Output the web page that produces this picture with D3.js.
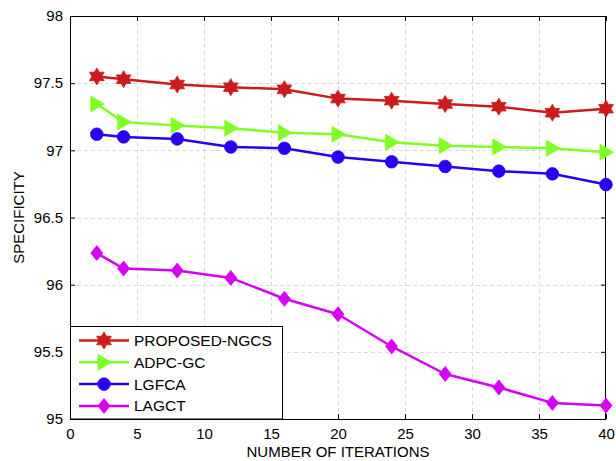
<!DOCTYPE html>
<html>
<head>
<meta charset="utf-8">
<script src="https://cdn.jsdelivr.net/npm/d3@7"></script>
<style>
  html, body { margin: 0; padding: 0; background: #fff; }
  svg { display: block; font-family: "Liberation Sans", Arial, sans-serif; }
</style>
</head>
<body>
<svg id="chart" width="616" height="461"></svg>
<script>
const iterations = [2, 4, 8, 12, 16, 20, 24, 28, 32, 36, 40];
const seriesNames = ["PROPOSED-NGCS", "ADPC-GC", "LGFCA", "LAGCT"];
const proposedNGCS = [97.55, 97.53, 97.49, 97.47, 97.455, 97.385, 97.37, 97.345, 97.325, 97.28, 97.31];
const adpcGC       = [97.345, 97.21, 97.185, 97.165, 97.13, 97.12, 97.06, 97.035, 97.025, 97.015, 96.985];
const lgfca        = [97.12, 97.10, 97.085, 97.025, 97.015, 96.95, 96.915, 96.88, 96.845, 96.825, 96.745];
const lagct        = [96.235, 96.12, 96.105, 96.05, 95.895, 95.78, 95.54, 95.335, 95.235, 95.12, 95.10];
const xTicks = [0, 5, 10, 15, 20, 25, 30, 35, 40];
const yTicks = [95, 95.5, 96, 96.5, 97, 97.5, 98];
const xTitle = "NUMBER OF ITERATIONS";
const yTitle = "SPECIFICITY";

const colors = ["#cc1b1b", "#80ff24", "#2a00f5", "#d600f5"];
const markerTypes = ["hexagram", "triangle", "circle", "diamond"];
const allValues = [proposedNGCS, adpcGC, lgfca, lagct];

const svg = d3.select("#chart");
const L = 70, R = 606, T = 16, B = 419;
const x = d3.scaleLinear().domain([0, 40]).range([L, R]);
const y = d3.scaleLinear().domain([95, 98]).range([B, T]);

svg.append("rect").attr("width", 616).attr("height", 461).attr("fill", "#fff");

// grid
const grid = svg.append("g").attr("stroke", "#d9d9d9").attr("stroke-width", 1).attr("stroke-dasharray", "4,3");
xTicks.slice(1, -1).forEach(t => {
  grid.append("line").attr("x1", Math.round(x(t)) + 0.5).attr("x2", Math.round(x(t)) + 0.5).attr("y1", T).attr("y2", B);
});
yTicks.slice(1, -1).forEach(t => {
  grid.append("line").attr("y1", Math.round(y(t)) + 0.5).attr("y2", Math.round(y(t)) + 0.5).attr("x1", L).attr("x2", R);
});

// axes
const fmt = d => String(d);
const tickLen = 5;
const xAxisB = d3.axisBottom(x).tickValues(xTicks).tickFormat(fmt).tickSizeInner(-tickLen).tickSizeOuter(0).tickPadding(9);
const xAxisT = d3.axisTop(x).tickValues(xTicks).tickFormat("").tickSizeInner(-tickLen).tickSizeOuter(0);
const yAxisL = d3.axisLeft(y).tickValues(yTicks).tickFormat(fmt).tickSizeInner(-tickLen).tickSizeOuter(0).tickPadding(7);
const yAxisR = d3.axisRight(y).tickValues(yTicks).tickFormat("").tickSizeInner(-tickLen).tickSizeOuter(0);

function styleAxis(g) {
  g.select(".domain").remove();
  g.selectAll("line").attr("stroke", "#000");
  g.selectAll("text").attr("fill", "#000").style("font-size", "15px").style("font-family", "Liberation Sans, Arial, sans-serif");
}
svg.append("g").attr("transform", `translate(0,${B})`).call(xAxisB).call(styleAxis);
svg.append("g").attr("transform", `translate(0,${T})`).call(xAxisT).call(styleAxis);
svg.append("g").attr("transform", `translate(${L},0)`).call(yAxisL).call(styleAxis);
svg.append("g").attr("transform", `translate(${R},0)`).call(yAxisR).call(styleAxis);

svg.append("rect").attr("x", L + 0.5).attr("y", T + 0.5).attr("width", R - L - 1).attr("height", B - T)
  .attr("fill", "none").attr("stroke", "#000").attr("stroke-width", 1);

// titles
svg.append("text").attr("x", (L + R) / 2).attr("y", 457).attr("text-anchor", "middle")
  .style("font-size", "15px").text(xTitle);
svg.append("text").attr("transform", `translate(24,${(T + B) / 2}) rotate(-90)`).attr("text-anchor", "middle")
  .style("font-size", "15px").text(yTitle);

// marker paths
function markerPath(type) {
  if (type === "hexagram") {
    const Ro = 8.5, Ri = Ro / Math.sqrt(3);
    const pts = d3.range(12).map(i => {
      const a = -Math.PI / 2 + i * Math.PI / 6;
      const r = i % 2 === 0 ? Ro : Ri;
      return [r * Math.cos(a), r * Math.sin(a)];
    });
    return "M" + pts.map(p => p.join(",")).join("L") + "Z";
  }
  if (type === "triangle") return "M7.5,0L-6,-8L-6,8Z";
  if (type === "diamond") return "M0,-7.5L6,0L0,7.5L-6,0Z";
  return d3.symbol(d3.symbolCircle, Math.PI * 6.3 * 6.3)();
}

const line = d3.line().x(d => x(d[0])).y(d => y(d[1]));
allValues.forEach((vals, i) => {
  const pts = iterations.map((it, j) => [it, vals[j]]);
  const g = svg.append("g");
  g.append("path").attr("d", line(pts)).attr("fill", "none").attr("stroke", colors[i]).attr("stroke-width", 2.5).attr("stroke-linejoin", "round");
  g.selectAll("path.m").data(pts).enter().append("path").attr("class", "m")
    .attr("transform", d => `translate(${x(d[0])},${y(d[1])})`)
    .attr("d", markerPath(markerTypes[i])).attr("fill", colors[i]).attr("stroke", colors[i]).attr("stroke-width", 0.8);
});

// legend
const lg = svg.append("g");
lg.append("rect").attr("x", L + 0.5).attr("y", 326.5).attr("width", 212).attr("height", B - 326.5)
  .attr("fill", "#fff").attr("stroke", "#000").attr("stroke-width", 1);
seriesNames.forEach((name, i) => {
  const cy = 340.5 + i * 21.8;
  lg.append("line").attr("x1", 79).attr("x2", 129).attr("y1", cy).attr("y2", cy).attr("stroke", colors[i]).attr("stroke-width", 2.5);
  lg.append("path").attr("transform", `translate(104,${cy})`).attr("d", markerPath(markerTypes[i]))
    .attr("fill", colors[i]).attr("stroke", colors[i]).attr("stroke-width", 0.8);
  lg.append("text").attr("x", 134).attr("y", cy).attr("dy", "0.36em").style("font-size", "15.5px").text(name);
});
</script>
</body>
</html>
